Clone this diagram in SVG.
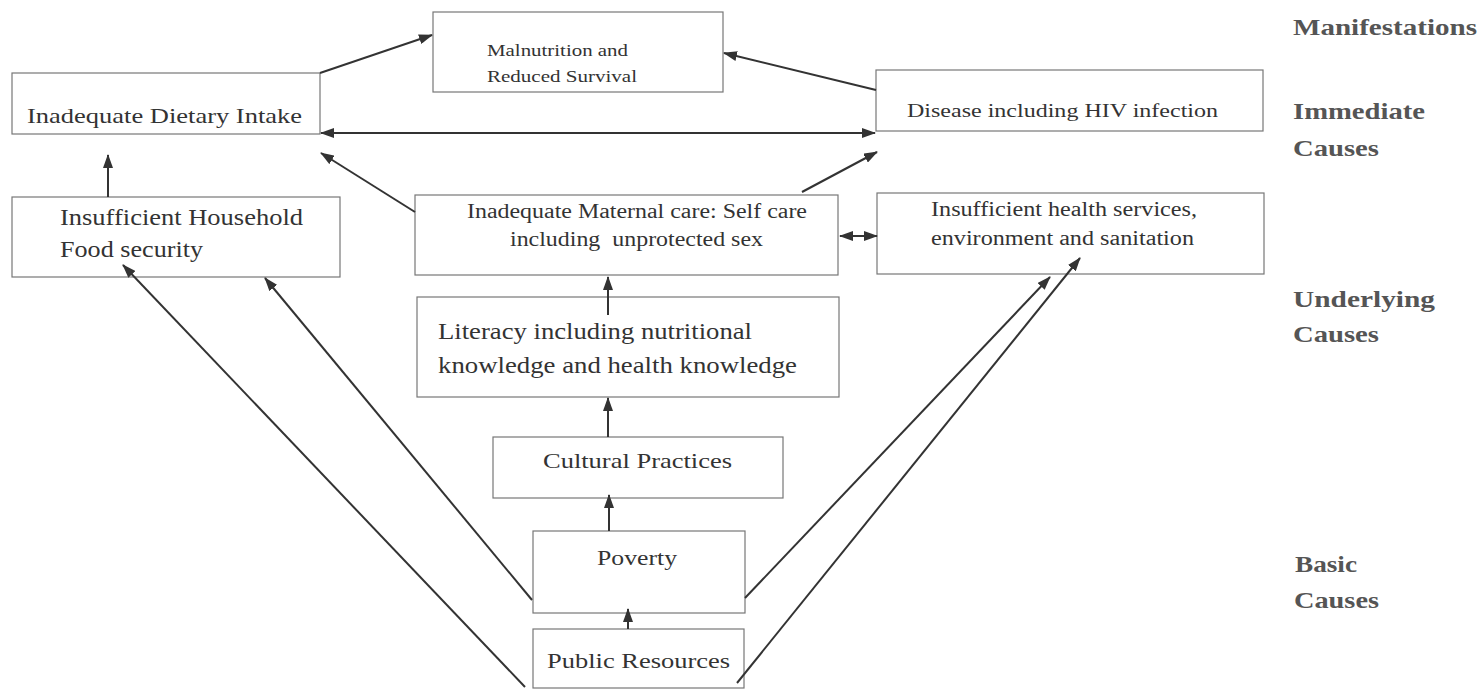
<svg xmlns="http://www.w3.org/2000/svg" width="1483" height="690" viewBox="0 0 1483 690">
<style>
.box{fill:#fff;stroke:#777;stroke-width:1.2}
.t{font-family:"Liberation Serif","Times New Roman",serif;fill:#333}
.lab{font-family:"Liberation Serif","Times New Roman",serif;font-weight:bold;fill:#555;font-size:24px}
.c{stroke:#333;stroke-width:2;fill:none;marker-end:url(#ah)}
.d{marker-start:url(#ah)}
</style>
<defs>
<marker id="ah" markerUnits="userSpaceOnUse" markerWidth="14" markerHeight="10" refX="13" refY="5" orient="auto-start-reverse" viewBox="0 0 14 10">
<path d="M0,0 L14,5 L0,10 z" fill="#333"/>
</marker>
</defs>
<rect width="1483" height="690" fill="#fff"/>
<g id="malnutrition">
<rect class="box" x="433" y="12" width="290" height="80"/>
<text class="t" font-size="17" x="487" y="56" textLength="141" lengthAdjust="spacingAndGlyphs">Malnutrition and</text>
<text class="t" font-size="17" x="487" y="82" textLength="150" lengthAdjust="spacingAndGlyphs">Reduced Survival</text>
</g>
<g id="dietary">
<rect class="box" x="12" y="73" width="308" height="61"/>
<text class="t" font-size="22" x="27" y="123" textLength="275" lengthAdjust="spacingAndGlyphs">Inadequate Dietary Intake</text>
</g>
<g id="disease">
<rect class="box" x="876" y="70" width="387" height="61"/>
<text class="t" font-size="19" x="907" y="117" textLength="311" lengthAdjust="spacingAndGlyphs">Disease including HIV infection</text>
</g>
<g id="food">
<rect class="box" x="12" y="197" width="328" height="80"/>
<text class="t" font-size="23" x="60" y="225" textLength="243" lengthAdjust="spacingAndGlyphs">Insufficient Household</text>
<text class="t" font-size="23" x="60" y="257" textLength="143" lengthAdjust="spacingAndGlyphs">Food security</text>
</g>
<g id="maternal">
<rect class="box" x="415" y="195" width="423" height="80"/>
<text class="t" font-size="20" x="467" y="218" textLength="340" lengthAdjust="spacingAndGlyphs">Inadequate Maternal care: Self care</text>
<text class="t" font-size="20" x="510" y="246" textLength="253" lengthAdjust="spacingAndGlyphs" xml:space="preserve">including  unprotected sex</text>
</g>
<g id="health">
<rect class="box" x="877" y="193" width="387" height="81"/>
<text class="t" font-size="20" x="931" y="216" textLength="266" lengthAdjust="spacingAndGlyphs">Insufficient health services,</text>
<text class="t" font-size="20" x="931" y="245" textLength="263" lengthAdjust="spacingAndGlyphs">environment and sanitation</text>
</g>
<g id="literacy">
<rect class="box" x="417" y="297" width="422" height="100"/>
<text class="t" font-size="23" x="438" y="339" textLength="314" lengthAdjust="spacingAndGlyphs">Literacy including nutritional</text>
<text class="t" font-size="23" x="438" y="373" textLength="359" lengthAdjust="spacingAndGlyphs">knowledge and health knowledge</text>
</g>
<g id="cultural">
<rect class="box" x="493" y="437" width="290" height="61"/>
<text class="t" font-size="22" x="543" y="468" textLength="189" lengthAdjust="spacingAndGlyphs">Cultural Practices</text>
</g>
<g id="poverty">
<rect class="box" x="533" y="531" width="212" height="82"/>
<text class="t" font-size="22" x="597" y="565" textLength="80" lengthAdjust="spacingAndGlyphs">Poverty</text>
</g>
<g id="public">
<rect class="box" x="533" y="629" width="211" height="59"/>
<text class="t" font-size="22" x="547" y="668" textLength="183" lengthAdjust="spacingAndGlyphs">Public Resources</text>
</g>
<g id="labels">
<text class="lab" x="1293" y="35" textLength="184" lengthAdjust="spacingAndGlyphs">Manifestations</text>
<text class="lab" x="1293" y="119" textLength="132" lengthAdjust="spacingAndGlyphs">Immediate</text>
<text class="lab" x="1293" y="156" textLength="86" lengthAdjust="spacingAndGlyphs">Causes</text>
<text class="lab" x="1293" y="307" textLength="142" lengthAdjust="spacingAndGlyphs">Underlying</text>
<text class="lab" x="1293" y="342" textLength="86" lengthAdjust="spacingAndGlyphs">Causes</text>
<text class="lab" x="1295" y="572" textLength="62" lengthAdjust="spacingAndGlyphs">Basic</text>
<text class="lab" x="1294" y="608" textLength="85" lengthAdjust="spacingAndGlyphs">Causes</text>
</g>
<g id="connectors">
<line class="c" x1="320" y1="73" x2="432" y2="35"/>
<line class="c" x1="876" y1="90" x2="724" y2="53"/>
<line class="c d" x1="321" y1="133" x2="875" y2="133"/>
<line class="c" x1="108" y1="197" x2="108" y2="155"/>
<line class="c" x1="415" y1="212" x2="321" y2="153"/>
<line class="c" x1="802" y1="192" x2="877" y2="152"/>
<line class="c d" x1="840" y1="236" x2="877" y2="236"/>
<line class="c" x1="608" y1="315" x2="608" y2="277"/>
<line class="c" x1="608" y1="437" x2="608" y2="398"/>
<line class="c" x1="609" y1="531" x2="609" y2="495"/>
<line class="c" x1="628" y1="629" x2="628" y2="609"/>
<line class="c" x1="525" y1="687" x2="123" y2="265"/>
<line class="c" x1="532" y1="600" x2="265" y2="278"/>
<line class="c" x1="745" y1="598" x2="1050" y2="277"/>
<line class="c" x1="737" y1="683" x2="1080" y2="258"/>
</g>
</svg>
